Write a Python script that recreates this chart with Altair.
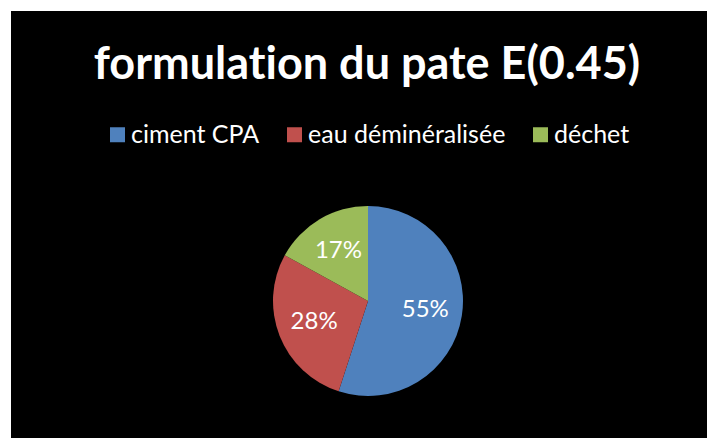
import altair as alt
import pandas as pd

categories = ["ciment CPA", "eau déminéralisée", "déchet"]
values = [55, 28, 17]
colors = ["#4F81BD", "#C0504D", "#9BBB59"]
# zero-width non-joiner keeps Lato from drawing its "ti" ligature
title_text = "formulat\u200cion du pate E(0.45)"

df = pd.DataFrame({
    "cat": categories,
    "val": values,
    "order": list(range(len(categories))),
    "label": [f"{v}%" for v in values],
})

CX, CY, R = 357, 290, 95
FONT = "Lato"

base = alt.Chart(df).encode(
    theta=alt.Theta("val:Q", stack=True),
    order=alt.Order("order:Q"),
)

pie = base.mark_arc(outerRadius=R, stroke=None).encode(
    x=alt.value(CX), y=alt.value(CY),
    color=alt.Color(
        "cat:N",
        scale=alt.Scale(domain=categories, range=colors),
        sort=categories,
        legend=alt.Legend(
            title=None, orient="none", direction="horizontal",
            legendX=94, legendY=111,
            symbolType="square", symbolSize=225, symbolStrokeWidth=0,
            labelFont=FONT, labelFontSize=25, labelColor="white",
            labelOffset=1, columnPadding=22, labelLimit=400, padding=0,
        ),
    ),
)

labels = base.mark_text(
    radius=58, font=FONT, fontSize=24, color="white"
).encode(
    x=alt.value(CX), y=alt.value(CY),
    text="label:N",
)

title = alt.Chart(pd.DataFrame({"t": [title_text]})).mark_text(
    font=FONT, fontSize=45, fontWeight="bold", color="white", baseline="alphabetic"
).encode(x=alt.value(356), y=alt.value(68), text="t:N")

chart = alt.layer(pie, labels, title).properties(
    width=699, height=430,
    autosize=alt.AutoSizeParams(type="fit", contains="padding"),
    padding={"left": 3, "top": 3, "right": 0, "bottom": 0},
    background="white",
).configure_view(fill="black", stroke=None)

chart.save("out.html", embed_options={"renderer": "svg", "actions": False})
